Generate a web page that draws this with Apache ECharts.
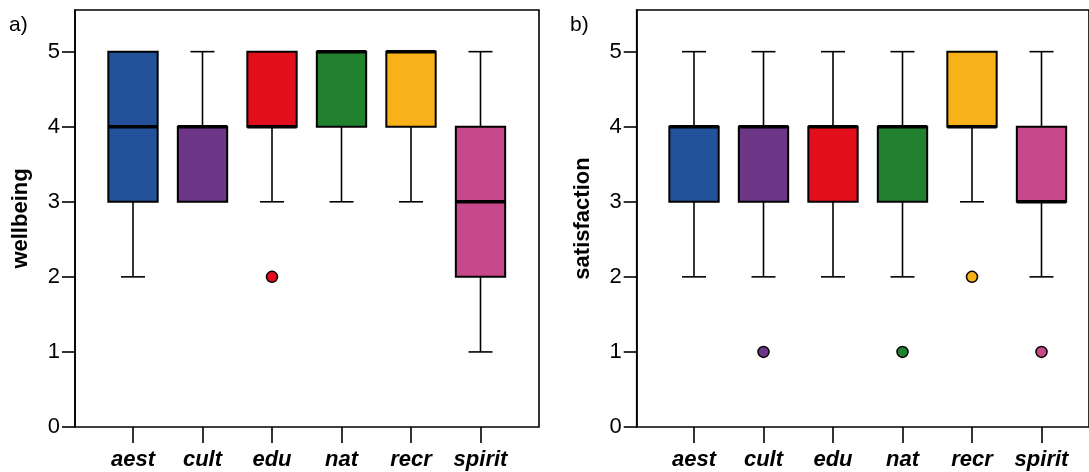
<!DOCTYPE html>
<html>
<head>
<meta charset="utf-8">
<script src="https://cdn.jsdelivr.net/npm/echarts@6/dist/echarts.min.js"></script>
<style>
html,body{margin:0;padding:0;background:#fff;}
#c{width:1089px;height:472px;}
</style>
</head>
<body>
<div id="c"></div>
<script>
// ---- data ----
const categories = ['aest', 'cult', 'edu', 'nat', 'recr', 'spirit'];
const boxColors = ['#23529B', '#6E3686', '#E20E1B', '#21812F', '#F8B118', '#C8488C'];
const yTicks = [0, 1, 2, 3, 4, 5];
// [lowWhisker, Q1, median, Q3, highWhisker]
const wellbeingBoxes = [
  [2, 3, 4, 5, 5],
  [3, 3, 4, 4, 5],
  [3, 4, 4, 5, 5],
  [3, 4, 5, 5, 5],
  [3, 4, 5, 5, 5],
  [1, 2, 3, 4, 5]
];
// [categoryIndex, value]
const wellbeingOutliers = [[2, 2]];
const satisfactionBoxes = [
  [2, 3, 4, 4, 5],
  [2, 3, 4, 4, 5],
  [2, 3, 4, 4, 5],
  [2, 3, 4, 4, 5],
  [3, 4, 4, 5, 5],
  [2, 3, 3, 4, 5]
];
const satisfactionOutliers = [[1, 1], [3, 1], [4, 2], [5, 1]];

// ---- layout ----
const Y_MAX = 5.555;
const TOP = 10, BOTTOM = 45;
const BAND = 69.5;
const panels = [
  { frameLeft: 75, firstCenter: 133, name: 'wellbeing', boxes: wellbeingBoxes, outliers: wellbeingOutliers, tag: 'a)', tagX: 9 },
  { frameLeft: 636.7, firstCenter: 694, name: 'satisfaction', boxes: satisfactionBoxes, outliers: satisfactionOutliers, tag: 'b)', tagX: 570 }
];
const FRAME_W = 464;
const FONT = 'Liberation Sans, Arial, sans-serif';

const grid = [], xAxis = [], yAxis = [], series = [], graphic = [];

panels.forEach((p, pi) => {
  const fg = pi * 2, bg = pi * 2 + 1;
  grid.push({
    left: p.frameLeft, top: TOP, bottom: BOTTOM,
    width: FRAME_W,
    show: true, borderColor: '#000', borderWidth: 1.6, backgroundColor: 'transparent'
  });
  const boxLeft = p.firstCenter - BAND / 2;
  grid.push({ left: boxLeft, top: TOP, bottom: BOTTOM, width: BAND * categories.length });
  xAxis.push({ type: 'value', gridIndex: fg, min: 0, max: 1, show: false });
  xAxis.push({
    type: 'category', gridIndex: bg, data: categories, boundaryGap: true,
    axisLine: { show: false },
    axisTick: { show: true, alignWithLabel: true, interval: 0, length: 16, lineStyle: { color: '#000', width: 1.6 } },
    axisLabel: { interval: 0, hideOverlap: false, color: '#000', fontSize: 22, fontWeight: 'bold', fontStyle: 'italic', fontFamily: FONT, margin: 22 },
    splitLine: { show: false }
  });
  yAxis.push({
    type: 'value', gridIndex: fg, min: 0, max: Y_MAX,
    name: p.name, nameLocation: 'middle', nameGap: 43,
    nameTextStyle: { color: '#000', fontSize: 22, fontWeight: 'bold', fontFamily: FONT },
    axisLine: { show: true, lineStyle: { color: '#000', width: 1.6 } },
    axisTick: { show: true, length: 13, customValues: yTicks, lineStyle: { color: '#000', width: 1.6 } },
    axisLabel: { show: true, customValues: yTicks, color: '#000', fontSize: 22, fontFamily: FONT, margin: 15 },
    splitLine: { show: false }
  });
  yAxis.push({ type: 'value', gridIndex: bg, min: 0, max: Y_MAX, show: false, splitLine: { show: false } });

  series.push({
    type: 'custom', xAxisIndex: bg, yAxisIndex: bg,
    data: p.boxes.map((b, i) => [i].concat(b)),
    renderItem: function (params, api) {
      const i = api.value(0);
      const lo = api.value(1), q1 = api.value(2), med = api.value(3), q3 = api.value(4), hi = api.value(5);
      const cx = api.coord([i, 0])[0];
      const y = v => api.coord([i, v])[1];
      const bw = api.size([1, 0])[0] * 0.71;
      const cw = 24;
      const children = [];
      const ls = { stroke: '#000', lineWidth: 1.6 };
      if (lo < q1) {
        children.push({ type: 'line', shape: { x1: cx, y1: y(q1), x2: cx, y2: y(lo) }, style: ls });
        children.push({ type: 'line', shape: { x1: cx - cw / 2, y1: y(lo), x2: cx + cw / 2, y2: y(lo) }, style: ls });
      }
      if (hi > q3) {
        children.push({ type: 'line', shape: { x1: cx, y1: y(q3), x2: cx, y2: y(hi) }, style: ls });
        children.push({ type: 'line', shape: { x1: cx - cw / 2, y1: y(hi), x2: cx + cw / 2, y2: y(hi) }, style: ls });
      }
      children.push({
        type: 'rect',
        shape: { x: cx - bw / 2, y: y(q3), width: bw, height: y(q1) - y(q3) },
        style: { fill: boxColors[i], stroke: '#000', lineWidth: 2 }
      });
      children.push({
        type: 'line',
        shape: { x1: cx - bw / 2, y1: y(med), x2: cx + bw / 2, y2: y(med) },
        style: { stroke: '#000', lineWidth: 3.5 }
      });
      return { type: 'group', children: children };
    },
    z: 2
  });
  series.push({
    type: 'scatter', xAxisIndex: bg, yAxisIndex: bg,
    data: p.outliers.map(o => ({ value: [o[0], o[1]], itemStyle: { color: boxColors[o[0]] } })),
    symbol: 'circle', symbolSize: 11,
    itemStyle: { borderColor: '#000', borderWidth: 1.5, opacity: 1 },
    z: 3
  });
  graphic.push({
    type: 'text', left: p.tagX, top: 15,
    style: { text: p.tag, fontSize: 21, fontFamily: FONT, fill: '#000' }
  });
});

const chart = echarts.init(document.getElementById('c'), null, { renderer: 'canvas' });
chart.setOption({
  animation: false,
  backgroundColor: '#fff',
  grid: grid, xAxis: xAxis, yAxis: yAxis, series: series, graphic: graphic,
  tooltip: { show: false }
});
</script>
</body>
</html>
